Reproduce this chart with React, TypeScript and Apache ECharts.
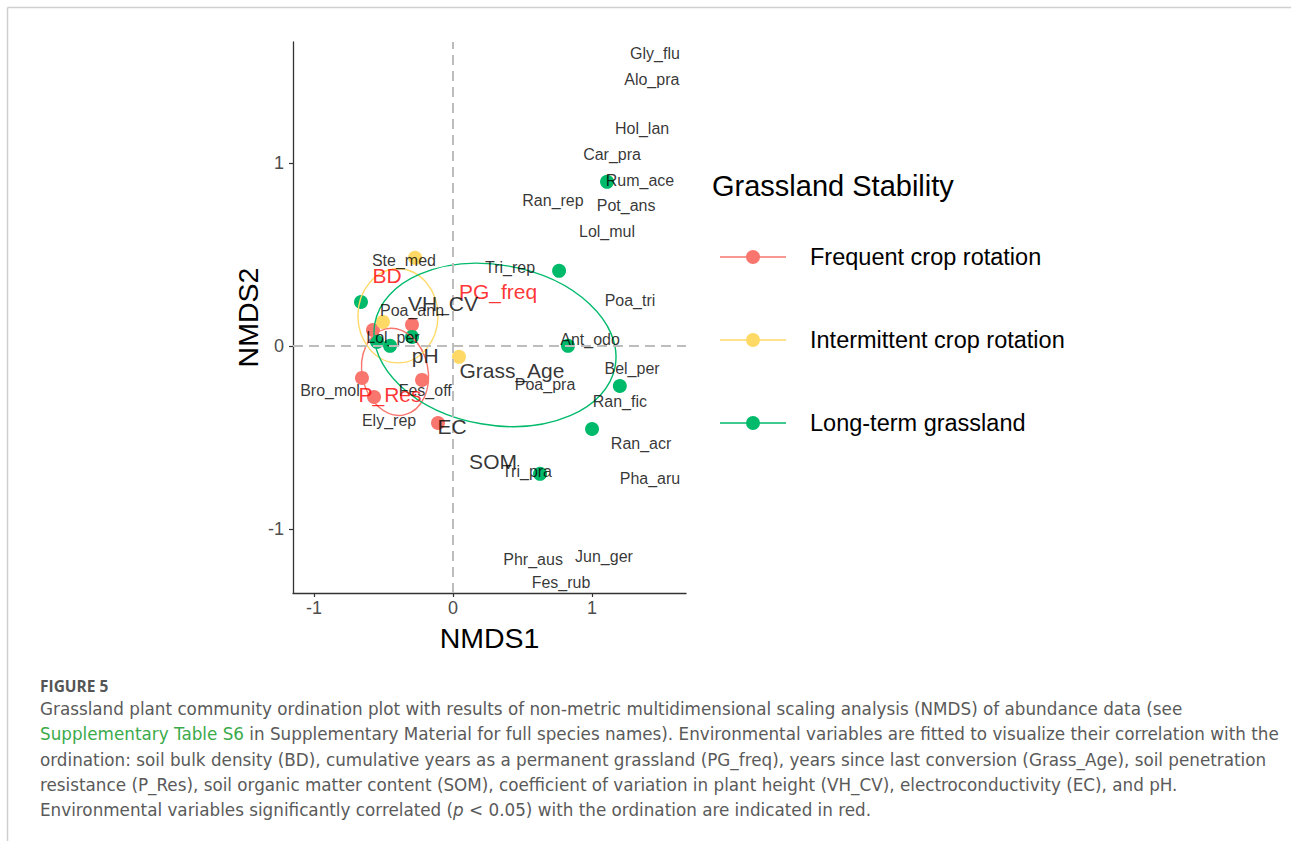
import React, { useEffect, useRef } from "react";
import * as echarts from "echarts";

// ---------- data ----------
const groupNames = ["Frequent crop rotation", "Intermittent crop rotation", "Long-term grassland"];
const groupColors = ["#F8766D", "#FFD966", "#00BA6B"];

const frequentX = [-0.295, -0.576, -0.655, -0.568, -0.223, -0.108];
const frequentY = [0.115, 0.087, -0.175, -0.279, -0.186, -0.421];
const intermittentX = [-0.273, -0.504, 0.043];
const intermittentY = [0.481, 0.131, -0.06];
const longTermX = [-0.662, -0.295, -0.547, -0.453, 0.763, 0.827, 1.2, 1.0, 0.626, 1.108];
const longTermY = [0.24, 0.049, 0.022, 0.0, 0.41, 0.0, -0.219, -0.454, -0.699, 0.896];

const speciesNames = [
  "Gly_flu", "Alo_pra", "Hol_lan", "Car_pra", "Rum_ace", "Ran_rep", "Pot_ans", "Lol_mul",
  "Ste_med", "Tri_rep", "Poa_tri", "Poa_ann", "Lol_per", "Ant_odo", "Bel_per", "Poa_pra",
  "Bro_mol", "Fes_off", "Ran_fic", "Ely_rep", "Ran_acr", "Tri_pra", "Pha_aru", "Jun_ger",
  "Phr_aus", "Fes_rub",
];
const speciesX = [
  1.453, 1.43, 1.36, 1.144, 1.345, 0.719, 1.245, 1.108,
  -0.353, 0.41, 1.273, -0.295, -0.432, 0.986, 1.288, 0.662,
  -0.885, -0.2, 1.2, -0.46, 1.353, 0.532, 1.417, 1.086,
  0.576, 0.777,
];
const speciesY = [
  1.596, 1.454, 1.186, 1.044, 0.902, 0.792, 0.765, 0.623,
  0.464, 0.426, 0.246, 0.191, 0.044, 0.033, -0.126, -0.213,
  -0.246, -0.246, -0.306, -0.41, -0.536, -0.689, -0.727, -1.153,
  -1.169, -1.295,
];

const envNames = ["BD", "PG_freq", "VH_CV", "pH", "Grass_Age", "P_Res", "EC", "SOM"];
const envX = [-0.475, 0.324, -0.072, -0.2, 0.424, -0.453, -0.007, 0.288];
const envY = [0.383, 0.295, 0.23, -0.055, -0.137, -0.268, -0.443, -0.634];
const envSignificant = [true, true, false, false, false, true, false, false];

// ellipses: centre, semi-axes (data units), screen rotation (deg), group index
const ellipseCx = [-0.417, -0.396, 0.302];
const ellipseCy = [-0.142, 0.164, 0.005];
const ellipseRx = [0.237, 0.288, 0.878];
const ellipseRy = [0.24, 0.257, 0.437];
const ellipseAngle = [12, 0, -10];
const ellipseGroup = [0, 1, 2];

const axisTicks = [-1, 0, 1];

const captionLines = [
  "Grassland plant community ordination plot with results of non-metric multidimensional scaling analysis (NMDS) of abundance data (see",
  "{g|Supplementary Table S6} in Supplementary Material for full species names). Environmental variables are fitted to visualize their correlation with the",
  "ordination: soil bulk density (BD), cumulative years as a permanent grassland (PG_freq), years since last conversion (Grass_Age), soil penetration",
  "resistance (P_Res), soil organic matter content (SOM), coefficient of variation in plant height (VH_CV), electroconductivity (EC), and pH.",
  "Environmental variables significantly correlated ({i|p} < 0.05) with the ordination are indicated in red.",
];

const PLOT_FONT = "Liberation Sans, Arial, sans-serif";
const CAP_FONT = "DejaVu Sans, sans-serif";
const HEAD_FONT = "Open Sans, sans-serif";
const CAP_SIZE = 16.8;

function zip(xs: number[], ys: number[]) {
  return xs.map((x, i) => [x, ys[i]]);
}

export default function App() {
  const ref = useRef<HTMLDivElement>(null);
  useEffect(() => {
    if (!ref.current) return;
    const chart = echarts.init(ref.current, undefined, { renderer: "svg" });

    const groupData = [
      zip(frequentX, frequentY),
      zip(intermittentX, intermittentY),
      zip(longTermX, longTermY),
    ];

    const ellipseData = ellipseCx.map((cx, i) => [cx, ellipseCy[i], ellipseRx[i], ellipseRy[i], ellipseAngle[i], ellipseGroup[i]]);

    const captionGraphics: any[] = captionLines.map((line, i) => ({
      type: "text",
      x: 40,
      y: 709 + i * 25.3,
      silent: true,
      style: {
        text: line,
        fill: "#5a5a5a",
        fontSize: CAP_SIZE,
        fontFamily: CAP_FONT,
        verticalAlign: "middle",
        align: "left",
        rich: {
          g: { fill: "#3BAA4B", fontSize: CAP_SIZE, fontFamily: CAP_FONT },
          i: { fill: "#5a5a5a", fontSize: CAP_SIZE, fontFamily: CAP_FONT, fontStyle: "italic" },
        },
      },
    }));

    const option: any = {
      animation: false,
      backgroundColor: "#ffffff",
      textStyle: { fontFamily: PLOT_FONT },
      title: {
        text: "Grassland Stability",
        left: 712,
        top: 171,
        padding: 0,
        textStyle: { fontSize: 29, fontWeight: "normal", color: "#000", fontFamily: PLOT_FONT },
      },
      legend: {
        orient: "vertical",
        left: 720,
        top: 245,
        padding: 0,
        itemGap: 59,
        itemWidth: 66,
        itemHeight: 14,
        icon: "path://M0,6.2 L66,6.2 L66,7.8 L0,7.8 Z M26,7 A7,7 0 1 1 40,7 A7,7 0 1 1 26,7 Z",
        data: groupNames,
        selectedMode: false,
        textStyle: { fontSize: 23.5, lineHeight: 24, color: "#000", fontFamily: PLOT_FONT, padding: [0, 0, 0, 19] },
      },
      grid: { left: 293, top: 42, width: 393, height: 551, containLabel: false, outerBoundsMode: "none" },
      xAxis: {
        type: "value",
        min: -1.151,
        max: 1.676,
        name: "NMDS1",
        nameLocation: "middle",
        nameGap: 30,
        nameTextStyle: { fontSize: 28.5, color: "#000", fontFamily: PLOT_FONT },
        axisLine: { show: true, onZero: false, lineStyle: { color: "#333", width: 1.3 } },
        axisTick: { show: true, customValues: axisTicks, length: 4, lineStyle: { color: "#333", width: 1.2 } },
        axisLabel: { customValues: axisTicks, fontSize: 18, color: "#4D4D4D", margin: 6, fontFamily: PLOT_FONT },
        splitLine: { show: false },
      },
      yAxis: {
        type: "value",
        min: -1.35,
        max: 1.66,
        name: "NMDS2",
        nameLocation: "middle",
        nameGap: 31,
        nameTextStyle: { fontSize: 28.5, color: "#000", fontFamily: PLOT_FONT },
        axisLine: { show: true, onZero: false, lineStyle: { color: "#333", width: 1.3 } },
        axisTick: { show: true, customValues: axisTicks, length: 4, lineStyle: { color: "#333", width: 1.2 } },
        axisLabel: { customValues: axisTicks, fontSize: 18, color: "#4D4D4D", margin: 9, fontFamily: PLOT_FONT },
        splitLine: { show: false },
      },
      graphic: [
        {
          type: "line",
          silent: true,
          shape: { x1: 7.5, y1: 7.5, x2: 1291, y2: 7.5 },
          style: { stroke: "#cfcfcf", lineWidth: 1.5 },
        },
        {
          type: "line",
          silent: true,
          shape: { x1: 7.5, y1: 7.5, x2: 7.5, y2: 841 },
          style: { stroke: "#cfcfcf", lineWidth: 1.5 },
        },
        {
          type: "text",
          x: 40,
          y: 686,
          silent: true,
          style: {
            text: "FIGURE 5",
            fill: "#555",
            fontSize: 15.5,
            fontWeight: "bold",
            fontFamily: HEAD_FONT,
            verticalAlign: "middle",
            align: "left",
          },
        },
        ...captionGraphics,
      ],
      series: [
        {
          name: "refLines",
          type: "scatter",
          data: [],
          z: 1,
          silent: true,
          markLine: {
            silent: true,
            symbol: ["none", "none"],
            label: { show: false },
            lineStyle: { color: "#BDBDBD", type: [10, 6], width: 2 },
            data: [{ xAxis: 0 }, { yAxis: 0 }],
          },
        },
        ...groupNames.map((name, gi) => ({
          name,
          type: "scatter",
          data: groupData[gi],
          symbol: "circle",
          symbolSize: 14,
          itemStyle: { color: groupColors[gi], opacity: 1 },
          z: 2,
          silent: true,
        })),
        {
          name: "ellipses",
          type: "custom",
          data: ellipseData,
          encode: { x: 0, y: 1 },
          z: 3,
          silent: true,
          renderItem: (params: any, api: any) => {
            const c = api.coord([api.value(0), api.value(1)]);
            const s = api.size([api.value(2), api.value(3)]);
            const g = api.value(5);
            return {
              type: "ellipse",
              x: c[0],
              y: c[1],
              rotation: (api.value(4) * Math.PI) / 180,
              shape: { cx: 0, cy: 0, rx: s[0], ry: s[1] },
              style: { fill: "none", stroke: groupColors[g], lineWidth: 1.4 },
              silent: true,
            };
          },
        },
        {
          name: "species",
          type: "scatter",
          symbolSize: 1,
          itemStyle: { color: "rgba(0,0,0,0)" },
          z: 4,
          silent: true,
          label: {
            show: true,
            position: "inside",
            formatter: "{b}",
            color: "#000",
            fontSize: 16,
            fontFamily: PLOT_FONT,
          },
          data: speciesNames.map((n, i) => ({ name: n, value: [speciesX[i], speciesY[i]] })),
        },
        {
          name: "env",
          type: "scatter",
          symbolSize: 1,
          itemStyle: { color: "rgba(0,0,0,0)" },
          z: 5,
          silent: true,
          label: {
            show: true,
            position: "inside",
            formatter: "{b}",
            fontSize: 21,
            fontFamily: PLOT_FONT,
          },
          data: envNames.map((n, i) => ({
            name: n,
            value: [envX[i], envY[i]],
            label: { color: envSignificant[i] ? "#FF0000" : "#000" },
          })),
        },
      ],
    };

    chart.setOption(option);
    return () => chart.dispose();
  }, []);

  return (
    <div
      ref={ref}
      style={{ position: "absolute", left: 0, top: 0, width: 1291, height: 841, background: "#fff" }}
    />
  );
}
